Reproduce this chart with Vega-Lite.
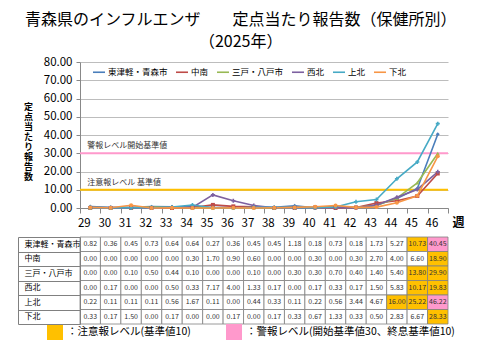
{
  "$schema": "https://vega.github.io/schema/vega-lite/v6.json",
  "padding": {"left": 17, "top": 12, "right": 4, "bottom": 4},
  "config": {"font": "Noto Sans CJK JP", "view": {"stroke": null}, "axisY": {"labelOverlap": false}},
  "title": {
    "text": ["青森県のインフルエンザ　　定点当たり報告数（保健所別）", "（2025年）"],
    "fontSize": 16, "fontWeight": "normal", "lineHeight": 22, "anchor": "middle", "offset": 6, "color": "#000"
  },
  "datasets": {
    "flu": [
      {"r": "東津軽・青森市", "w": 29, "v": 0.82}, {"r": "東津軽・青森市", "w": 30, "v": 0.36}, {"r": "東津軽・青森市", "w": 31, "v": 0.45}, {"r": "東津軽・青森市", "w": 32, "v": 0.73}, {"r": "東津軽・青森市", "w": 33, "v": 0.64}, {"r": "東津軽・青森市", "w": 34, "v": 0.64}, {"r": "東津軽・青森市", "w": 35, "v": 0.27}, {"r": "東津軽・青森市", "w": 36, "v": 0.36}, {"r": "東津軽・青森市", "w": 37, "v": 0.45}, {"r": "東津軽・青森市", "w": 38, "v": 0.45}, {"r": "東津軽・青森市", "w": 39, "v": 1.18}, {"r": "東津軽・青森市", "w": 40, "v": 0.18}, {"r": "東津軽・青森市", "w": 41, "v": 0.73}, {"r": "東津軽・青森市", "w": 42, "v": 0.18}, {"r": "東津軽・青森市", "w": 43, "v": 1.73}, {"r": "東津軽・青森市", "w": 44, "v": 5.27}, {"r": "東津軽・青森市", "w": 45, "v": 10.73}, {"r": "東津軽・青森市", "w": 46, "v": 40.45},
      {"r": "中南", "w": 29, "v": 0}, {"r": "中南", "w": 30, "v": 0}, {"r": "中南", "w": 31, "v": 0}, {"r": "中南", "w": 32, "v": 0}, {"r": "中南", "w": 33, "v": 0}, {"r": "中南", "w": 34, "v": 0.3}, {"r": "中南", "w": 35, "v": 1.7}, {"r": "中南", "w": 36, "v": 0.9}, {"r": "中南", "w": 37, "v": 0.6}, {"r": "中南", "w": 38, "v": 0}, {"r": "中南", "w": 39, "v": 0}, {"r": "中南", "w": 40, "v": 0.3}, {"r": "中南", "w": 41, "v": 0}, {"r": "中南", "w": 42, "v": 0.3}, {"r": "中南", "w": 43, "v": 2.7}, {"r": "中南", "w": 44, "v": 4.0}, {"r": "中南", "w": 45, "v": 6.6}, {"r": "中南", "w": 46, "v": 18.9},
      {"r": "三戸・八戸市", "w": 29, "v": 0}, {"r": "三戸・八戸市", "w": 30, "v": 0}, {"r": "三戸・八戸市", "w": 31, "v": 0.1}, {"r": "三戸・八戸市", "w": 32, "v": 0.5}, {"r": "三戸・八戸市", "w": 33, "v": 0.44}, {"r": "三戸・八戸市", "w": 34, "v": 0.1}, {"r": "三戸・八戸市", "w": 35, "v": 0}, {"r": "三戸・八戸市", "w": 36, "v": 0}, {"r": "三戸・八戸市", "w": 37, "v": 0.1}, {"r": "三戸・八戸市", "w": 38, "v": 0}, {"r": "三戸・八戸市", "w": 39, "v": 0.3}, {"r": "三戸・八戸市", "w": 40, "v": 0.3}, {"r": "三戸・八戸市", "w": 41, "v": 0.7}, {"r": "三戸・八戸市", "w": 42, "v": 0.4}, {"r": "三戸・八戸市", "w": 43, "v": 1.4}, {"r": "三戸・八戸市", "w": 44, "v": 5.4}, {"r": "三戸・八戸市", "w": 45, "v": 13.8}, {"r": "三戸・八戸市", "w": 46, "v": 29.9},
      {"r": "西北", "w": 29, "v": 0}, {"r": "西北", "w": 30, "v": 0.17}, {"r": "西北", "w": 31, "v": 0}, {"r": "西北", "w": 32, "v": 0}, {"r": "西北", "w": 33, "v": 0.5}, {"r": "西北", "w": 34, "v": 0.33}, {"r": "西北", "w": 35, "v": 7.17}, {"r": "西北", "w": 36, "v": 4.0}, {"r": "西北", "w": 37, "v": 1.33}, {"r": "西北", "w": 38, "v": 0.17}, {"r": "西北", "w": 39, "v": 0}, {"r": "西北", "w": 40, "v": 0.17}, {"r": "西北", "w": 41, "v": 0.33}, {"r": "西北", "w": 42, "v": 0.17}, {"r": "西北", "w": 43, "v": 1.5}, {"r": "西北", "w": 44, "v": 5.83}, {"r": "西北", "w": 45, "v": 10.17}, {"r": "西北", "w": 46, "v": 19.83},
      {"r": "上北", "w": 29, "v": 0.22}, {"r": "上北", "w": 30, "v": 0.11}, {"r": "上北", "w": 31, "v": 0.11}, {"r": "上北", "w": 32, "v": 0.11}, {"r": "上北", "w": 33, "v": 0.56}, {"r": "上北", "w": 34, "v": 1.67}, {"r": "上北", "w": 35, "v": 0.11}, {"r": "上北", "w": 36, "v": 0}, {"r": "上北", "w": 37, "v": 0.44}, {"r": "上北", "w": 38, "v": 0.33}, {"r": "上北", "w": 39, "v": 0.11}, {"r": "上北", "w": 40, "v": 0.22}, {"r": "上北", "w": 41, "v": 0.56}, {"r": "上北", "w": 42, "v": 3.44}, {"r": "上北", "w": 43, "v": 4.67}, {"r": "上北", "w": 44, "v": 16.0}, {"r": "上北", "w": 45, "v": 25.22}, {"r": "上北", "w": 46, "v": 46.22},
      {"r": "下北", "w": 29, "v": 0.33}, {"r": "下北", "w": 30, "v": 0.17}, {"r": "下北", "w": 31, "v": 1.5}, {"r": "下北", "w": 32, "v": 0}, {"r": "下北", "w": 33, "v": 0.17}, {"r": "下北", "w": 34, "v": 0}, {"r": "下北", "w": 35, "v": 0}, {"r": "下北", "w": 36, "v": 0.17}, {"r": "下北", "w": 37, "v": 0}, {"r": "下北", "w": 38, "v": 0.17}, {"r": "下北", "w": 39, "v": 0.33}, {"r": "下北", "w": 40, "v": 0.67}, {"r": "下北", "w": 41, "v": 1.33}, {"r": "下北", "w": 42, "v": 0.33}, {"r": "下北", "w": 43, "v": 0.5}, {"r": "下北", "w": 44, "v": 2.83}, {"r": "下北", "w": 45, "v": 6.67}, {"r": "下北", "w": 46, "v": 28.33}
    ]
  },
  "spacing": 4,
  "resolve": {"scale": {"color": "independent", "x": "shared"}, "legend": {"color": "independent"}},
  "vconcat": [
    {
      "width": 368,
      "height": 146,
      "layer": [
        {
          "data": {"values": [{"lv": 30}]},
          "mark": {"type": "rule", "strokeWidth": 2, "color": "#FF99CC"},
          "encoding": {
            "y": {
              "field": "lv", "type": "quantitative",
              "scale": {"domain": [0, 80]},
              "axis": {
                "values": [0, 10, 20, 30, 40, 50, 60, 70, 80], "tickCount": 10, "format": ".2f", "labelOverlap": false,
                "labelFontSize": 11.5, "labelColor": "#000", "labelPadding": 4,
                "tickSize": 4, "tickColor": "#888", "domainColor": "#888", "gridColor": "#BDBDBD",
                "title": ["定", "点", "当", "た", "り", "報", "告", "数"],
                "titleAngle": 0, "titleFontSize": 9, "titleLineHeight": 10, "titleFontWeight": "bold",
                "titleAlign": "center", "titleBaseline": "middle", "titleX": -52, "titleY": 44, "titleColor": "#000"
              }
            }
          }
        },
        {
          "data": {"values": [{"lv": 10}]},
          "mark": {"type": "rule", "strokeWidth": 2, "color": "#FFC000"},
          "encoding": {"y": {"field": "lv", "type": "quantitative"}}
        },
        {
          "data": {"values": [{"lv": 30, "t": "警報レベル開始基準値"}, {"lv": 10, "t": "注意報レベル 基準値"}]},
          "mark": {"type": "text", "align": "left", "baseline": "middle", "dx": -3, "dy": -7, "fontSize": 8, "color": "#333"},
          "encoding": {
            "x": {"datum": 29, "type": "ordinal"},
            "y": {"field": "lv", "type": "quantitative"},
            "text": {"field": "t"}
          }
        },
        {
          "data": {"name": "flu"},
          "mark": {"type": "line", "strokeWidth": 1.6},
          "encoding": {
            "x": {
              "field": "w", "type": "ordinal",
              "scale": {"paddingInner": 0, "paddingOuter": 0},
              "axis": {
                "labelAngle": 0, "labelFontSize": 11.5, "labelColor": "#000", "labelPadding": 10,
                "tickBand": "extent", "tickSize": 5, "tickColor": "#888", "domainColor": "#888",
                "title": "週", "titleFontSize": 12, "titleFontWeight": "bold", "titleX": 372, "titleY": 14, "titleAlign": "left", "titleBaseline": "middle", "titleColor": "#000"
              }
            },
            "y": {"field": "v", "type": "quantitative"},
            "color": {
              "field": "r", "type": "nominal",
              "scale": {
                "domain": ["東津軽・青森市", "中南", "三戸・八戸市", "西北", "上北", "下北"],
                "range": ["#4A7EBB", "#BE4B48", "#98B954", "#7D60A0", "#46AAC5", "#F79646"]
              },
              "legend": {
                "title": null, "orient": "none", "legendX": 12, "legendY": 3, "direction": "horizontal",
                "columns": 6, "symbolType": "stroke", "symbolSize": 144, "symbolStrokeWidth": 1.6,
                "labelFontSize": 8.5, "labelColor": "#000", "labelOffset": 2, "columnPadding": 4
              }
            }
          }
        },
        {
          "data": {"name": "flu"},
          "mark": {"type": "point", "filled": true, "size": 16, "opacity": 1},
          "encoding": {
            "x": {"field": "w", "type": "ordinal"},
            "y": {"field": "v", "type": "quantitative"},
            "color": {"field": "r", "type": "nominal", "legend": null},
            "shape": {
              "field": "r", "type": "nominal",
              "scale": {"domain": ["東津軽・青森市", "中南", "三戸・八戸市", "西北", "上北", "下北"], "range": ["diamond", "square", "triangle-up", "cross", "cross", "circle"]},
              "legend": null
            }
          }
        }
      ]
    },
    {
      "width": 368,
      "height": 87,
      "data": {"name": "flu"},
      "transform": [{"calculate": "datum.v >= 30 ? '警報' : '注意報'", "as": "level"}],
      "layer": [
        {
          "mark": {"type": "rect", "stroke": "#808080", "strokeWidth": 0.8},
          "encoding": {
            "x": {"field": "w", "type": "ordinal", "axis": null},
            "y": {
              "field": "r", "type": "nominal",
              "sort": ["東津軽・青森市", "中南", "三戸・八戸市", "西北", "上北", "下北"],
              "scale": {"paddingInner": 0, "paddingOuter": 0},
              "axis": {
                "orient": "left", "title": null, "labelAlign": "left", "labelPadding": -6, "labelFontSize": 8, "labelColor": "#000",
                "tickBand": "extent", "tickSize": 62, "tickColor": "#808080", "domainColor": "#808080", "grid": false
              }
            },
            "color": {
              "condition": {"test": "datum.v < 10", "value": "#FFFFFF"},
              "field": "level", "type": "nominal",
              "scale": {"domain": ["注意報", "警報"], "range": ["#FFC000", "#FF99CC"]},
              "legend": {
                "title": null, "orient": "none", "legendX": -33, "legendY": 87, "direction": "horizontal",
                "symbolType": "square", "symbolSize": 256, "symbolStrokeWidth": 0,
                "labelFontSize": 10.5, "labelColor": "#000", "labelOffset": 4, "columnPadding": 35, "labelLimit": 320,
                "labelExpr": "datum.label == '注意報' ? '：注意報レベル(基準値10)' : '：警報レベル(開始基準値30、終息基準値10)'"
              }
            }
          }
        },
        {
          "mark": {"type": "text", "fontSize": 7, "color": "#333"},
          "encoding": {
            "x": {"field": "w", "type": "ordinal", "axis": null},
            "y": {"field": "r", "type": "nominal", "sort": ["東津軽・青森市", "中南", "三戸・八戸市", "西北", "上北", "下北"], "axis": null},
            "text": {"field": "v", "type": "quantitative", "format": ".2f"}
          }
        },
        {
          "mark": {"type": "rect", "opacity": 0},
          "encoding": {
            "x": {"field": "w", "type": "ordinal", "axis": null},
            "y": {
              "field": "r", "type": "nominal", "sort": ["東津軽・青森市", "中南", "三戸・八戸市", "西北", "上北", "下北"],
              "axis": {"orient": "left", "offset": 62, "labels": false, "ticks": false, "grid": false, "domain": true, "domainColor": "#808080", "title": null}
            }
          }
        }
      ],
      "resolve": {"axis": {"y": "independent"}}
    }
  ]
}
